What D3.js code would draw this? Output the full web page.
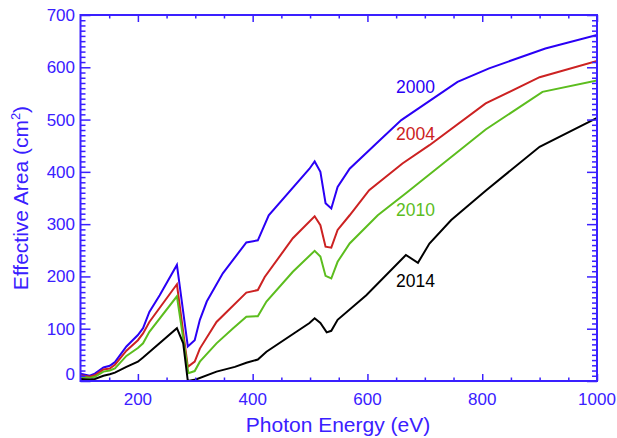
<!DOCTYPE html>
<html><head><meta charset="utf-8">
<script src="https://cdn.jsdelivr.net/npm/d3@7"></script>
<style>body{margin:0;background:#fff}svg{display:block}</style>
</head><body>
<svg id="c" width="617" height="438"></svg>
<script>
const years = ["2000","2004","2010","2014"];
const s2000 = [[100,14],[116,10],[125,14],[140,26],[151,29],[160,36],[180,66],[200,88],[209,101],[220,132],[238,164],[268,222],[287,66],[299,78],[308,117],[320,152],[348,206],[389,265],[409,269],[428,317],[499,406],[508,420],[518,400],[527,340],[537,330],[548,371],[569,406],[621,460],[659,499],[757,572],[812,598],[910,636],[1000,662]];
const s2004 = [[100,11],[116,8],[125,11],[140,22],[151,24],[160,31],[180,58],[200,78],[209,91],[220,113],[268,185],[287,27],[299,37],[308,62],[337,113],[389,169],[409,174],[421,199],[470,273],[508,315],[518,298],[527,257],[537,255],[548,289],[569,317],[603,365],[661,416],[708,451],[806,531],[900,581],[1000,612]];
const s2010 = [[100,8],[116,6],[125,8],[140,18],[151,20],[160,24],[180,48],[200,63],[209,72],[220,94],[268,162],[288,15],[299,19],[308,37],[337,72],[366,101],[389,123],[409,124],[424,152],[470,209],[508,249],[518,238],[527,201],[537,196],[548,228],[569,263],[618,317],[667,359],[806,481],[905,553],[1000,575]];
const s2014 = [[100,4],[116,3],[125,4],[140,10],[151,13],[160,16],[180,27],[200,37],[209,45],[268,101],[279,72],[287,0],[301,3],[337,18],[369,27],[389,35],[409,41],[424,56],[499,111],[508,120],[518,111],[529,93],[537,96],[548,117],[598,164],[667,241],[688,226],[708,263],[746,308],[806,364],[900,448],[1000,503]];
const xMajor = [200,400,600,800,1000];
const yMajor = [0,100,200,300,400,500,600,700];
const labelVals = [[659,"2000"],[661,"2004"],[667,"2010"],[667,"2014"]];

const series = [s2000,s2004,s2010,s2014];
const colors = ["#2a00f5","#cc2222","#5cbd1e","#000000"];
const axisColor = "#3a20ff";
const font = "'Liberation Sans', Arial, sans-serif";

const svg = d3.select("#c");
const L=80.5, R=597, T=15, B=381;
const x = d3.scaleLinear().domain([100,1000]).range([L,R]);
const y = d3.scaleLinear().domain([0,700]).range([B,T]);

const clip = svg.append("clipPath").attr("id","pc").append("rect")
  .attr("x",L).attr("y",T-2).attr("width",R-L).attr("height",B-T+2);

const line = d3.line().x(d=>x(d[0])).y(d=>y(d[1]));
const g = svg.append("g").attr("clip-path","url(#pc)");
series.forEach((s,i)=>{
  g.append("path").datum(s).attr("d",line).attr("fill","none")
   .attr("stroke",colors[i]).attr("stroke-width",2).attr("stroke-linejoin","miter");
});

// axes
const xMinor = d3.range(150,1000,50).filter(v=>!xMajor.includes(v));
const yMinor = d3.range(10,700,10).filter(v=>!yMajor.includes(v));
function styleAxis(sel){
  sel.select(".domain").remove();
  sel.selectAll("line").attr("stroke",axisColor).attr("stroke-width",1.5);
  sel.selectAll("text").remove();
}
svg.append("g").attr("transform",`translate(0,${B})`).call(d3.axisBottom(x).tickValues(xMajor).tickSize(-7)).call(styleAxis);
svg.append("g").attr("transform",`translate(0,${B})`).call(d3.axisBottom(x).tickValues(xMinor).tickSize(-3.5)).call(styleAxis);
svg.append("g").attr("transform",`translate(0,${T})`).call(d3.axisTop(x).tickValues(xMajor).tickSize(-7)).call(styleAxis);
svg.append("g").attr("transform",`translate(0,${T})`).call(d3.axisTop(x).tickValues(xMinor).tickSize(-3.5)).call(styleAxis);
svg.append("g").attr("transform",`translate(${L},0)`).call(d3.axisLeft(y).tickValues(yMajor).tickSize(-10)).call(styleAxis);
svg.append("g").attr("transform",`translate(${L},0)`).call(d3.axisLeft(y).tickValues(yMinor).tickSize(-5)).call(styleAxis);
svg.append("g").attr("transform",`translate(${R},0)`).call(d3.axisRight(y).tickValues(yMajor).tickSize(-10)).call(styleAxis);
svg.append("g").attr("transform",`translate(${R},0)`).call(d3.axisRight(y).tickValues(yMinor).tickSize(-5)).call(styleAxis);

svg.append("rect").attr("x",L).attr("y",T).attr("width",R-L).attr("height",B-T)
  .attr("fill","none").attr("stroke",axisColor).attr("stroke-width",2);

// tick labels
svg.append("g").selectAll("text").data(xMajor).join("text")
  .attr("x",d=>x(d)).attr("y",B+24).attr("text-anchor","middle")
  .attr("font-family",font).attr("font-size",17).attr("fill",axisColor).text(d=>d);
svg.append("g").selectAll("text").data(yMajor).join("text")
  .attr("x",L-5.5).attr("y",d=>(d===0? y(d)-7 : y(d))+6).attr("text-anchor","end")
  .attr("font-family",font).attr("font-size",17).attr("fill",axisColor).text(d=>d);

// titles
svg.append("text").attr("x",338).attr("y",432).attr("text-anchor","middle")
  .attr("font-family",font).attr("font-size",21).attr("fill",axisColor).text("Photon Energy (eV)");
const yt = svg.append("text").attr("transform","translate(28,198) rotate(-90)").attr("text-anchor","middle")
  .attr("font-family",font).attr("font-size",21).attr("fill",axisColor);
yt.append("tspan").text("Effective Area (cm");
yt.append("tspan").attr("font-size",13).attr("dy",-8).text("2");
yt.append("tspan").attr("dy",8).text(")");

// series labels
const labelY = [86.7,133.3,209.3,281];
years.forEach((yr,i)=>{
  svg.append("text").attr("x",396).attr("y",labelY[i]+6.2)
    .attr("font-family",font).attr("font-size",17.5).attr("fill",colors[i]).text(yr);
});
</script>
</body></html>
